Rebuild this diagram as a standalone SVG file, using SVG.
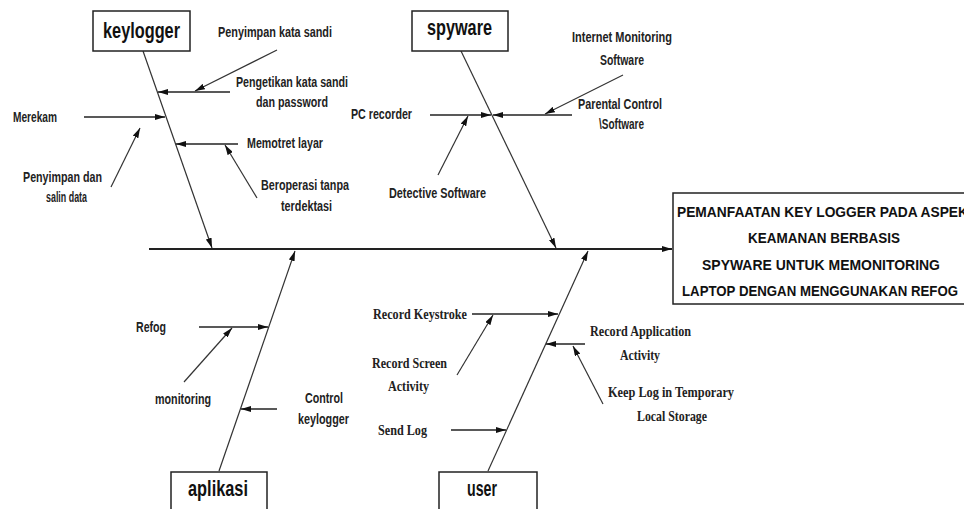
<svg xmlns="http://www.w3.org/2000/svg" width="964" height="509" viewBox="0 0 964 509">
<defs>
<style>
.box{fill:#fff;stroke:#222;stroke-width:1.5}
.title{font-family:"Liberation Sans",Arial,sans-serif;font-weight:bold;font-size:22px;fill:#111}
.main{font-family:"Liberation Sans",Arial,sans-serif;font-weight:bold;font-size:15.5px;fill:#111}
.lbl{font-family:"Liberation Sans",Arial,sans-serif;font-weight:bold;font-size:14px;fill:#222}
.ser{font-family:"Liberation Serif","Times New Roman",serif;font-weight:bold;font-size:15px;fill:#222}
.bone{stroke:#333;stroke-width:1.2;fill:none}
.spine{stroke:#222;stroke-width:2;fill:none}
.sub{stroke:#222;stroke-width:1.7;fill:none}
.diag{stroke:#333;stroke-width:1.2;fill:none}
</style>
<marker id="ah" viewBox="0 0 10 6" refX="10" refY="3" markerUnits="userSpaceOnUse" markerWidth="10" markerHeight="6" orient="auto">
<path d="M0,0 L10,3 L0,6 z" fill="#111"/>
</marker>
</defs>
<rect width="964" height="509" fill="#fff"/>

<g id="connectors">
<path class="spine" d="M149,249 L672,249" marker-end="url(#ah)"/>
<path class="bone" d="M143,51 L212,248" marker-end="url(#ah)"/>
<path class="bone" d="M461,51 L556,248" marker-end="url(#ah)"/>
<path class="bone" d="M219,471 L295,251" marker-end="url(#ah)"/>
<path class="bone" d="M488,471 L588,251" marker-end="url(#ah)"/>

<path class="sub" d="M230,92 L158,92" marker-end="url(#ah)"/>
<path class="sub" d="M84,117 L165,117" marker-end="url(#ah)"/>
<path class="sub" d="M238,144 L176,144" marker-end="url(#ah)"/>
<path class="diag" d="M277,50 L195,91" marker-end="url(#ah)"/>
<path class="diag" d="M111,187 L140,128" marker-end="url(#ah)"/>
<path class="diag" d="M257,198 L225,145" marker-end="url(#ah)"/>

<path class="sub" d="M430,115 L491,115" marker-end="url(#ah)"/>
<path class="sub" d="M572,115 L493,115" marker-end="url(#ah)"/>
<path class="diag" d="M623,75 L545,114" marker-end="url(#ah)"/>
<path class="diag" d="M438,175 L468,116" marker-end="url(#ah)"/>

<path class="sub" d="M199,327 L268,327" marker-end="url(#ah)"/>
<path class="sub" d="M277,409 L241,409" marker-end="url(#ah)"/>
<path class="diag" d="M184,382 L232,328" marker-end="url(#ah)"/>

<path class="sub" d="M472,314 L558,314" marker-end="url(#ah)"/>
<path class="sub" d="M585,344 L546,344" marker-end="url(#ah)"/>
<path class="sub" d="M451,430 L506,430" marker-end="url(#ah)"/>
<path class="diag" d="M457,375 L493,315" marker-end="url(#ah)"/>
<path class="diag" d="M603,404 L573,346" marker-end="url(#ah)"/>
</g>

<g id="keylogger">
<rect class="box" x="93" y="11" width="97" height="40"/>
<text class="title" x="103" y="38" textLength="77" lengthAdjust="spacingAndGlyphs">keylogger</text>
</g>
<g id="spyware">
<rect class="box" x="412" y="11" width="96" height="40"/>
<text class="title" x="427" y="35" textLength="65" lengthAdjust="spacingAndGlyphs">spyware</text>
</g>
<g id="aplikasi">
<rect class="box" x="171" y="472" width="96" height="45"/>
<text class="title" x="188" y="496" textLength="60" lengthAdjust="spacingAndGlyphs">aplikasi</text>
</g>
<g id="user">
<rect class="box" x="439" y="472" width="98" height="45"/>
<text class="title" x="467" y="496" textLength="30" lengthAdjust="spacingAndGlyphs">user</text>
</g>
<g id="effect">
<rect class="box" x="673" y="193" width="300" height="111"/>
<text class="main" x="677" y="217" textLength="291" lengthAdjust="spacingAndGlyphs">PEMANFAATAN KEY LOGGER PADA ASPEK</text>
<text class="main" x="748" y="243" textLength="152" lengthAdjust="spacingAndGlyphs">KEAMANAN BERBASIS</text>
<text class="main" x="702" y="270" textLength="238" lengthAdjust="spacingAndGlyphs">SPYWARE UNTUK MEMONITORING</text>
<text class="main" x="682" y="296" textLength="276" lengthAdjust="spacingAndGlyphs">LAPTOP DENGAN MENGGUNAKAN REFOG</text>
</g>

<g id="labels">
<text class="lbl" x="218" y="37" textLength="114" lengthAdjust="spacingAndGlyphs">Penyimpan kata sandi</text>
<text class="lbl" x="236" y="87" textLength="112" lengthAdjust="spacingAndGlyphs">Pengetikan kata sandi</text>
<text class="lbl" x="256" y="107" textLength="72" lengthAdjust="spacingAndGlyphs">dan password</text>
<text class="lbl" x="13" y="122" textLength="44" lengthAdjust="spacingAndGlyphs">Merekam</text>
<text class="lbl" x="23" y="182" textLength="79" lengthAdjust="spacingAndGlyphs">Penyimpan dan</text>
<text class="lbl" x="46" y="202" textLength="41" lengthAdjust="spacingAndGlyphs">salin data</text>
<text class="lbl" x="247" y="148" textLength="76" lengthAdjust="spacingAndGlyphs">Memotret layar</text>
<text class="lbl" x="261" y="190" textLength="88" lengthAdjust="spacingAndGlyphs">Beroperasi tanpa</text>
<text class="lbl" x="281" y="211" textLength="51" lengthAdjust="spacingAndGlyphs">terdektasi</text>

<text class="lbl" x="351" y="119" textLength="61" lengthAdjust="spacingAndGlyphs">PC recorder</text>
<text class="lbl" x="572" y="42" textLength="100" lengthAdjust="spacingAndGlyphs">Internet Monitoring</text>
<text class="lbl" x="600" y="65" textLength="44" lengthAdjust="spacingAndGlyphs">Software</text>
<text class="lbl" x="578" y="109" textLength="84" lengthAdjust="spacingAndGlyphs">Parental Control</text>
<text class="lbl" x="599" y="129" textLength="45" lengthAdjust="spacingAndGlyphs">\Software</text>
<text class="lbl" x="389" y="198" textLength="97" lengthAdjust="spacingAndGlyphs">Detective Software</text>

<text class="lbl" x="136" y="332" textLength="30" lengthAdjust="spacingAndGlyphs">Refog</text>
<text class="lbl" x="155" y="404" textLength="56" lengthAdjust="spacingAndGlyphs">monitoring</text>
<text class="lbl" x="305" y="403" textLength="38" lengthAdjust="spacingAndGlyphs">Control</text>
<text class="lbl" x="298" y="424" textLength="51" lengthAdjust="spacingAndGlyphs">keylogger</text>

<text class="ser" x="373" y="319" textLength="94" lengthAdjust="spacingAndGlyphs">Record Keystroke</text>
<text class="ser" x="372" y="368" textLength="75" lengthAdjust="spacingAndGlyphs">Record Screen</text>
<text class="ser" x="388" y="391" textLength="41" lengthAdjust="spacingAndGlyphs">Activity</text>
<text class="ser" x="590" y="336" textLength="101" lengthAdjust="spacingAndGlyphs">Record Application</text>
<text class="ser" x="620" y="360" textLength="40" lengthAdjust="spacingAndGlyphs">Activity</text>
<text class="ser" x="608" y="397" textLength="126" lengthAdjust="spacingAndGlyphs">Keep Log in Temporary</text>
<text class="ser" x="637" y="421" textLength="70" lengthAdjust="spacingAndGlyphs">Local Storage</text>
<text class="ser" x="378" y="435" textLength="49" lengthAdjust="spacingAndGlyphs">Send Log</text>
</g>
</svg>
